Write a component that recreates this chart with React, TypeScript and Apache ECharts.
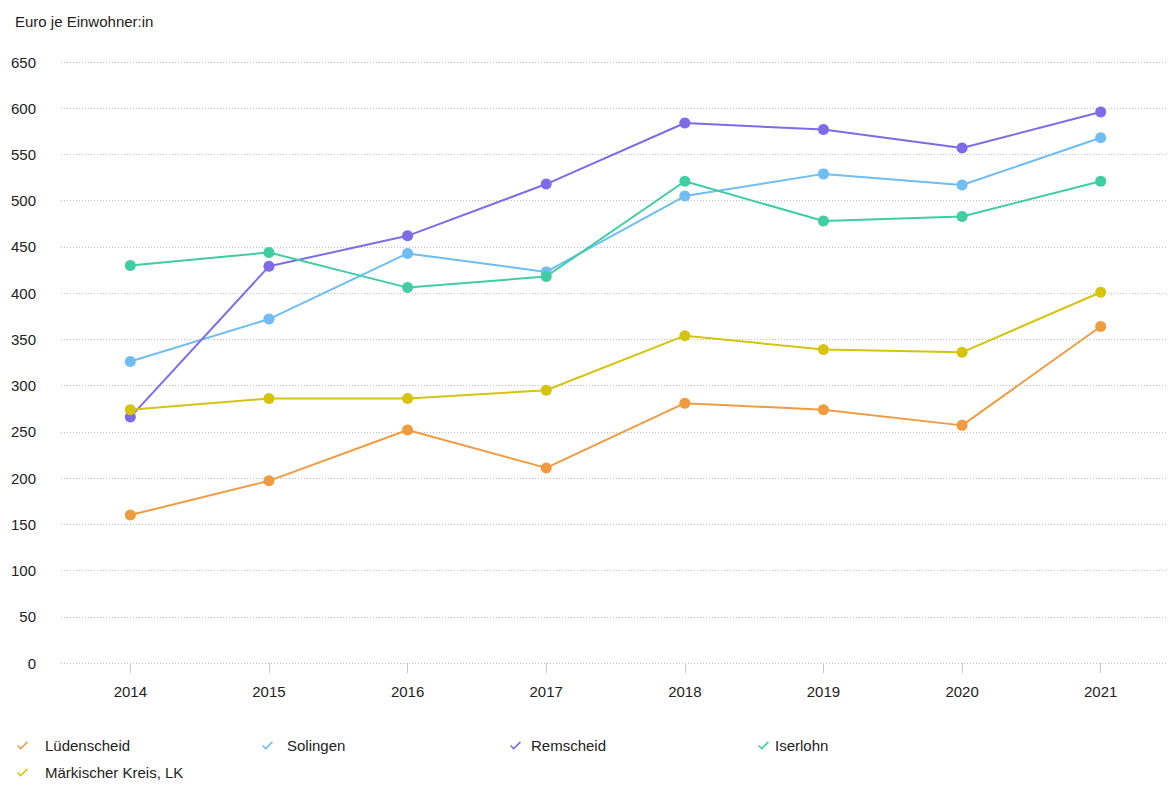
import React, { useEffect, useRef } from "react";
import * as echarts from "echarts";

// Jahre auf der x-Achse
const years = ["2014", "2015", "2016", "2017", "2018", "2019", "2020", "2021"];

// Werte in Euro je Einwohner:in
const luedenscheid = [160, 197, 252, 211, 281, 274, 257, 364];
const solingen = [326, 372, 443, 423, 505, 529, 517, 568];
const remscheid = [266, 429, 462, 518, 584, 577, 557, 596];
const iserlohn = [430, 444, 406, 418, 521, 478, 483, 521];
const maerkischerKreis = [274, 286, 286, 295, 354, 339, 336, 401];

const seriesNames = ["Lüdenscheid", "Solingen", "Remscheid", "Iserlohn", "Märkischer Kreis, LK"];
const seriesData = [luedenscheid, solingen, remscheid, iserlohn, maerkischerKreis];
const colors = ["#ef9b40", "#6fbdf3", "#7d6be8", "#40cda3", "#d5c30e"];

// Häkchen als Legendensymbol
const checkIcon = "path://M0,6 L1.2,4.8 L4,7.6 L10.8,0.8 L12,2 L4,10 Z";

// Position der Legendeneinträge: [left, top, textPadding]
const legendSlots: [number, number, number][] = [
  [4, 725, 12],
  [249, 725, 9],
  [497, 725, 5],
  [745, 725, 1],
  [4, 752, 12],
];

export default function App() {
  const ref = useRef<HTMLDivElement>(null);

  useEffect(() => {
    if (!ref.current) return;
    const chart = echarts.init(ref.current, undefined, { renderer: "svg" });
    const font = "Liberation Sans, Arial, sans-serif";

    chart.setOption({
      animation: false,
      backgroundColor: "#ffffff",
      textStyle: { fontFamily: font },
      title: {
        text: "Euro je Einwohner:in",
        left: 2,
        top: 1,
        textStyle: { fontSize: 15, fontWeight: "normal", color: "#222", fontFamily: font },
      },
      grid: { left: 52, right: 4, top: 54, bottom: 126, containLabel: false },
      legend: seriesNames.map((name, i) => ({
        data: [name],
        left: legendSlots[i][0],
        top: legendSlots[i][1],
        icon: checkIcon,
        itemWidth: 11,
        itemHeight: 9,
        textStyle: {
          fontSize: 15,
          color: "#222",
          fontFamily: font,
          padding: [0, 0, 0, legendSlots[i][2]],
        },
      })),
      xAxis: {
        type: "category",
        data: years,
        boundaryGap: true,
        axisLine: { show: false },
        axisTick: { show: true, alignWithLabel: true, length: 10, lineStyle: { color: "#c8c8c8" } },
        axisLabel: { fontSize: 15, color: "#222", margin: 21, fontFamily: font },
      },
      yAxis: {
        type: "value",
        min: 0,
        max: 650,
        interval: 50,
        axisLine: { show: false },
        axisTick: { show: false },
        axisLabel: { fontSize: 15, color: "#222", margin: 25, fontFamily: font },
        splitLine: { lineStyle: { type: [1, 2], color: "#bdbdbd", width: 1 } },
      },
      series: seriesNames.map((name, i) => ({
        name,
        type: "line",
        data: seriesData[i],
        symbol: "circle",
        symbolSize: 11,
        showSymbol: true,
        itemStyle: { color: colors[i] },
        lineStyle: { color: colors[i], width: 2 },
      })),
    });

    return () => chart.dispose();
  }, []);

  return <div ref={ref} style={{ width: 1166, height: 781 }} />;
}
